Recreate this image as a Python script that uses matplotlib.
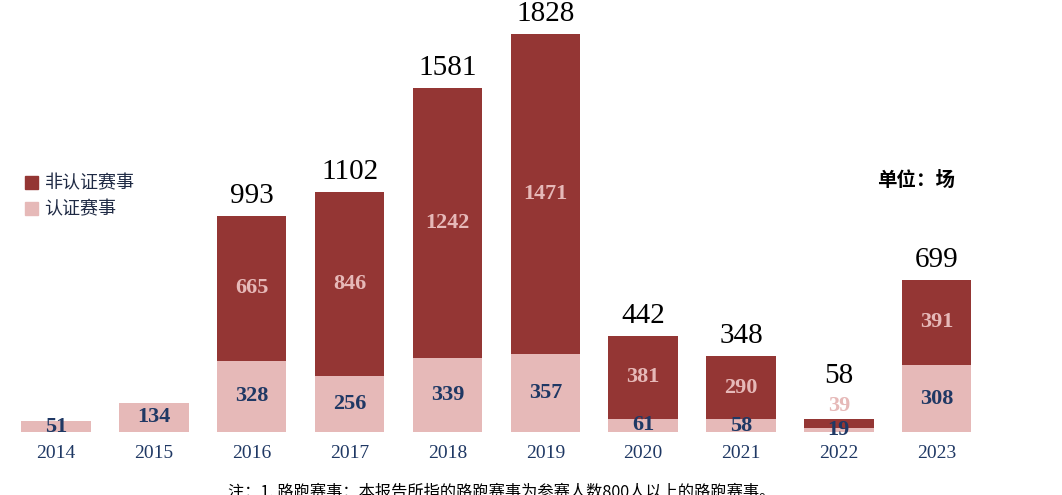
import matplotlib
matplotlib.use("Agg")
import matplotlib.pyplot as plt
from matplotlib.patches import Patch
import numpy as np

years = ["2014", "2015", "2016", "2017", "2018", "2019", "2020", "2021", "2022", "2023"]
certified = [51, 134, 328, 256, 339, 357, 61, 58, 19, 308]
non_certified = [0, 0, 665, 846, 1242, 1471, 381, 290, 39, 391]
totals = [None, None, 993, 1102, 1581, 1828, 442, 348, 58, 699]
legend_labels = ["非认证赛事", "认证赛事"]
unit_text = "单位：场"
note_text = "注：1. 路跑赛事：本报告所指的路跑赛事为参赛人数800人以上的路跑赛事。"

DARK = "#943634"
PINK = "#E6B9B8"
NAVY = "#1F3864"
CJK = ["Noto Sans CJK SC", "DejaVu Sans"]
SERIF = "Liberation Serif"

fig = plt.figure(figsize=(10.62, 4.95), dpi=100)
ax = fig.add_axes([0, 0, 1, 1])
x = np.arange(len(years))
w = 0.71
ax.bar(x, certified, w, color=PINK, zorder=2)
ax.bar(x, non_certified, w, bottom=certified, color=DARK, zorder=2)

ax.set_xlim(-0.572, 10.28)
ax.set_ylim(-289, 1984)
ax.set_axis_off()

for i in range(len(years)):
    c, n, t = certified[i], non_certified[i], totals[i]
    ax.annotate(years[i], (x[i], 0), xytext=(0, -15.5), textcoords="offset points",
                ha="center", va="center", fontsize=14, color=NAVY, family=SERIF)
    if c:
        ax.text(x[i], c / 2, str(c), ha="center", va="center", fontsize=16,
                fontweight="bold", color=NAVY, family=SERIF, zorder=3)
    if n:
        if n < 60:
            ax.annotate(str(n), (x[i], c + n), xytext=(0, 10), textcoords="offset points",
                        ha="center", va="center", fontsize=16, fontweight="bold",
                        color=PINK, family=SERIF, zorder=3)
        else:
            ax.text(x[i], c + n / 2, str(n), ha="center", va="center", fontsize=16,
                    fontweight="bold", color=PINK, family=SERIF, zorder=3)
    if t is not None:
        off = 26 if n < 60 else 9.5
        ax.annotate(str(t), (x[i], c + n), xytext=(0, off), textcoords="offset points",
                    ha="center", va="baseline", fontsize=21, color="black", family=SERIF)

handles = [Patch(color=DARK), Patch(color=PINK)]
leg = fig.legend(handles, legend_labels, loc="upper left", bbox_to_anchor=(0.008, 0.68),
                 frameon=False, handlelength=0.75, handleheight=0.75, handletextpad=0.35,
                 labelspacing=0.45, prop={"family": CJK, "size": 13, "weight": "medium"})
for txt in leg.get_texts():
    txt.set_color("#1F2A44")

fig.text(0.826, 0.636, unit_text, family=CJK, fontsize=14, fontweight="bold",
         color="black", ha="left", va="center")
fig.text(0.215, 0.006, note_text, family=CJK, fontsize=11.7, color="black",
         ha="left", va="center")

fig.savefig("out.png", dpi=100)
